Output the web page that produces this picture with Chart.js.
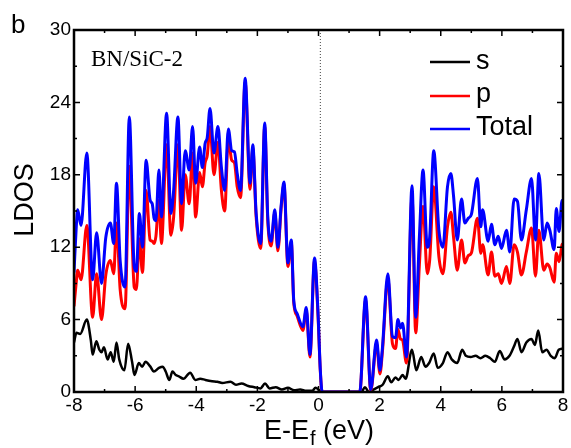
<!DOCTYPE html>
<html>
<head>
<meta charset="utf-8">
<script src="https://cdn.jsdelivr.net/npm/chart.js@4/dist/chart.umd.min.js"></script>
<style>
  html, body { margin: 0; padding: 0; background: #fff; }
  #ldos { display: block; }
</style>
</head>
<body>
<canvas id="ldos" width="571" height="448"></canvas>
<script>
(() => {
  "use strict";

  // energies (eV) shared by the p and Total curves
  const energies = [
    -8.00, -7.93, -7.88, -7.77, -7.58, -7.39, -7.26, -7.10, -6.96, -6.81,
    -6.70, -6.61, -6.49, -6.33, -6.19, -6.03, -5.96, -5.86, -5.76, -5.64,
    -5.51, -5.44, -5.38, -5.32, -5.22, -5.14, -4.97, -4.83, -4.74, -4.60,
    -4.48, -4.36, -4.23, -4.12, -4.02, -3.89, -3.80, -3.71, -3.64, -3.55,
    -3.42, -3.29, -3.18, -3.07, -2.95, -2.84, -2.75, -2.66, -2.55, -2.40,
    -2.24, -2.15, -2.04, -1.89, -1.76, -1.66, -1.55, -1.43, -1.33, -1.22,
    -1.13, -1.00, -0.89, -0.81, -0.70, -0.51, -0.40, -0.28, -0.13, -0.02,
    0.06, 0.12, 1.35, 1.54, 1.71, 1.90, 2.01, 2.09, 2.27, 2.42,
    2.52, 2.60, 2.68, 2.75, 2.88, 3.06, 3.18, 3.30, 3.42, 3.56,
    3.64, 3.77, 3.94, 4.07, 4.22, 4.33, 4.42, 4.54, 4.68, 4.79,
    4.90, 5.00, 5.20, 5.31, 5.37, 5.55, 5.66, 5.77, 5.88, 5.99,
    6.15, 6.26, 6.40, 6.51, 6.64, 6.80, 6.97, 7.10, 7.21, 7.37,
    7.48, 7.57, 7.71, 7.78, 7.87, 7.97, 8.00
  ];

  const totalDos = [
    9.9, 13.5, 15.1, 13.8, 19.8, 9.3, 13.2, 9.0, 12.8, 14.0,
    12.3, 17.3, 10.9, 8.7, 22.8, 10.4, 10.0, 14.8, 12.0, 19.2,
    15.9, 15.6, 14.4, 14.2, 18.4, 14.5, 23.1, 14.8, 16.7, 22.8,
    15.6, 20.0, 18.4, 22.0, 17.3, 20.3, 18.6, 20.6, 21.1, 23.5,
    19.8, 22.0, 18.7, 16.7, 21.8, 20.0, 19.9, 18.1, 16.7, 26.0,
    17.3, 20.5, 14.8, 12.3, 22.3, 14.5, 12.5, 15.1, 12.0, 15.5,
    17.4, 10.7, 12.6, 7.6, 6.5, 5.4, 7.0, 3.1, 11.1, 6.8,
    1.8, 0.0, 0.0, 7.9, 0.2, 4.3, 1.8, 3.6, 9.8, 4.6,
    4.5, 6.0, 5.3, 5.7, 2.9, 17.1, 6.2, 12.8, 18.4, 12.0,
    12.9, 20.0, 13.4, 12.0, 17.0, 18.1, 16.2, 12.6, 16.0, 14.0,
    14.4, 14.7, 17.7, 13.7, 15.1, 12.5, 13.9, 12.2, 12.9, 11.9,
    13.4, 11.6, 16.0, 15.8, 12.6, 15.1, 17.7, 12.6, 18.1, 12.6,
    14.0, 13.4, 11.8, 15.2, 13.3, 15.9, 15.5
  ];

  const pDos = [
    7.1, 9.0, 10.1, 9.3, 13.8, 6.2, 9.8, 6.0, 9.7, 10.9,
    9.8, 14.0, 8.5, 6.9, 18.7, 8.7, 8.5, 12.7, 9.9, 16.7,
    12.6, 12.5, 12.3, 12.9, 15.9, 12.3, 20.5, 13.0, 14.5, 20.5,
    13.4, 18.0, 15.6, 19.8, 14.5, 18.2, 17.0, 19.0, 19.6, 22.0,
    18.0, 20.7, 16.8, 15.0, 21.0, 19.2, 19.0, 17.0, 16.1, 25.7,
    16.8, 20.2, 14.5, 11.9, 22.0, 14.2, 12.1, 14.9, 11.7, 15.3,
    17.2, 10.4, 12.4, 7.4, 6.3, 5.1, 6.8, 2.9, 10.9, 6.6,
    1.7, 0.0, 0.0, 7.6, 0.1, 4.0, 1.5, 3.3, 9.4, 4.0,
    3.6, 5.2, 4.4, 4.3, 2.4, 16.2, 4.9, 10.5, 15.4, 9.8,
    11.0, 17.0, 11.2, 9.8, 13.7, 14.9, 12.8, 10.1, 12.6, 10.7,
    11.3, 11.5, 14.4, 11.5, 12.2, 9.7, 11.6, 9.6, 9.8, 9.0,
    10.4, 9.0, 12.2, 11.6, 9.7, 11.6, 13.6, 9.6, 13.4, 10.1,
    10.6, 10.3, 9.1, 11.5, 10.8, 12.2, 12.3
  ];

  // s curve has its own energy grid
  const sEnergies = [
    -8.00, -7.92, -7.80, -7.58, -7.45, -7.39, -7.27, -7.17, -7.10, -7.02,
    -6.90, -6.80, -6.70, -6.61, -6.52, -6.35, -6.23, -6.10, -6.02, -5.88,
    -5.77, -5.66, -5.50, -5.39, -5.22, -5.10, -5.00, -4.88, -4.78, -4.67,
    -4.57, -4.42, -4.20, -4.03, -3.87, -3.70, -3.48, -3.31, -3.15, -2.88,
    -2.70, -2.52, -2.30, -2.10, -1.90, -1.75, -1.60, -1.40, -1.20, -1.00,
    -0.80, -0.60, -0.40, -0.20, -0.10, 0.05, 0.12, 1.40, 1.52, 1.65,
    1.80, 1.95, 2.10, 2.27, 2.38, 2.52, 2.62, 2.75, 2.85, 3.06,
    3.20, 3.36, 3.50, 3.62, 3.77, 3.90, 4.07, 4.22, 4.36, 4.54,
    4.70, 4.82, 4.98, 5.14, 5.30, 5.46, 5.62, 5.77, 5.93, 6.09,
    6.25, 6.40, 6.51, 6.64, 6.80, 6.97, 7.08, 7.19, 7.32, 7.46,
    7.60, 7.73, 7.86, 8.00
  ];

  const sDos = [
    4.1, 4.9, 4.8, 6.0, 4.3, 3.1, 4.2, 3.5, 3.3, 3.7,
    2.7, 3.3, 2.5, 4.1, 2.7, 1.8, 4.0, 2.5, 1.4, 2.4,
    2.1, 2.5, 2.1, 1.7, 2.0, 2.1, 1.7, 1.0, 1.7, 1.4,
    1.3, 1.1, 1.6, 1.0, 1.1, 1.0, 0.9, 0.85, 0.75, 0.85,
    0.6, 0.7, 0.5, 0.4, 0.3, 0.7, 0.3, 0.4, 0.2, 0.35,
    0.15, 0.2, 0.1, 0.1, 0.35, 0.1, 0.0, 0.0, 0.4, 0.0,
    0.2, 0.4, 0.6, 1.3, 0.8, 1.2, 1.0, 1.4, 1.1, 3.5,
    1.8, 2.9, 2.1, 2.4, 3.2, 2.0, 2.4, 3.3, 2.7, 2.4,
    3.5, 3.0, 2.9, 3.0, 2.8, 3.0, 2.8, 2.5, 3.4, 2.7,
    3.0, 3.8, 4.4, 3.3, 4.1, 4.4, 3.9, 5.1, 3.3, 3.5,
    3.0, 2.8, 3.5, 3.6
  ];

  const xTicks = [-8, -6, -4, -2, 0, 2, 4, 6, 8];
  const yTicks = [0, 6, 12, 18, 24, 30];
  const fermiLine = 0.06;

  const SANS = "'Liberation Sans', Arial, sans-serif";
  const SERIF = "'Liberation Serif', 'Times New Roman', serif";

  function toPoints(xs, ys) {
    return xs.map((x, i) => ({ x, y: ys[i] }));
  }

  // frame, inward ticks, dotted Fermi line, legend and text labels
  const decorations = {
    id: "decorations",
    beforeDatasetsDraw(chart) {
      const { ctx, chartArea: a, scales } = chart;
      const xf = scales.x.getPixelForValue(fermiLine);
      ctx.save();
      ctx.strokeStyle = "#444";
      ctx.lineWidth = 1;
      ctx.setLineDash([1, 2]);
      ctx.beginPath();
      ctx.moveTo(xf, a.top);
      ctx.lineTo(xf, a.bottom);
      ctx.stroke();
      ctx.restore();
    },
    afterDraw(chart) {
      const { ctx, chartArea: a, scales } = chart;
      ctx.save();
      ctx.strokeStyle = "#000";
      ctx.lineWidth = 2.5;
      ctx.strokeRect(a.left, a.top, a.right - a.left, a.bottom - a.top);

      ctx.lineWidth = 1.5;
      ctx.beginPath();
      for (let v = -8; v <= 8; v += 1) {
        const px = scales.x.getPixelForValue(v);
        const len = v % 2 === 0 ? 6 : 3;
        ctx.moveTo(px, a.bottom); ctx.lineTo(px, a.bottom - len);
        ctx.moveTo(px, a.top); ctx.lineTo(px, a.top + len);
      }
      for (let v = 0; v <= 30; v += 3) {
        const py = scales.y.getPixelForValue(v);
        const len = v % 6 === 0 ? 6 : 3;
        ctx.moveTo(a.left, py); ctx.lineTo(a.left + len, py);
        ctx.moveTo(a.right, py); ctx.lineTo(a.right - len, py);
      }
      ctx.stroke();

      // legend
      const legend = [
        ["s", "#000000", 62, 69],
        ["p", "#ff0000", 96, 102],
        ["Total", "#0000ff", 129, 135]
      ];
      ctx.lineWidth = 2.5;
      ctx.font = `27px ${SANS}`;
      ctx.textAlign = "left";
      ctx.textBaseline = "alphabetic";
      legend.forEach(([label, color, ly, by]) => {
        ctx.strokeStyle = color;
        ctx.beginPath();
        ctx.moveTo(430, ly);
        ctx.lineTo(470, ly);
        ctx.stroke();
        ctx.fillStyle = "#000";
        ctx.fillText(label, 476, by);
      });

      // inset label
      ctx.font = `23px ${SERIF}`;
      ctx.fillText("BN/SiC-2", 91, 66);

      // panel letter
      ctx.font = `26px ${SANS}`;
      ctx.fillText("b", 11, 33);

      // x title with subscript f
      ctx.font = `27px ${SANS}`;
      const partA = "E-E";
      const partB = " (eV)";
      ctx.font = `27px ${SANS}`;
      const wA = ctx.measureText(partA).width;
      ctx.font = `20px ${SANS}`;
      const wF = ctx.measureText("f").width;
      ctx.font = `27px ${SANS}`;
      const wB = ctx.measureText(partB).width;
      let tx = (a.left + a.right) / 2 - (wA + wF + wB) / 2;
      ctx.fillText(partA, tx, 439);
      tx += wA;
      ctx.font = `20px ${SANS}`;
      ctx.fillText("f", tx + 1, 445);
      tx += wF + 1;
      ctx.font = `27px ${SANS}`;
      ctx.fillText(partB, tx, 439);

      // y title
      ctx.translate(33, 200);
      ctx.rotate(-Math.PI / 2);
      ctx.textAlign = "center";
      ctx.fillText("LDOS", 0, 0);
      ctx.restore();
    }
  };

  new Chart(document.getElementById("ldos"), {
    type: "line",
    data: {
      datasets: [
        {
          label: "Total",
          data: toPoints(energies, totalDos),
          borderColor: "#0000ff",
          borderWidth: 3,
          pointRadius: 0,
          cubicInterpolationMode: "monotone"
        },
        {
          label: "p",
          data: toPoints(energies, pDos),
          borderColor: "#ff0000",
          borderWidth: 3,
          pointRadius: 0,
          cubicInterpolationMode: "monotone"
        },
        {
          label: "s",
          data: toPoints(sEnergies, sDos),
          borderColor: "#000000",
          borderWidth: 2.5,
          pointRadius: 0,
          cubicInterpolationMode: "monotone"
        }
      ]
    },
    options: {
      responsive: false,
      animation: false,
      devicePixelRatio: 1,
      layout: { padding: { left: 0, right: 8, top: 30, bottom: 0 } },
      plugins: {
        legend: { display: false },
        tooltip: { enabled: false }
      },
      scales: {
        x: {
          type: "linear",
          min: -8,
          max: 8,
          afterFit(scale) { scale.height = 56; },
          afterBuildTicks(scale) { scale.ticks = xTicks.map(v => ({ value: v })); },
          grid: { display: false, drawTicks: false },
          border: { display: false },
          ticks: {
            padding: 2,
            color: "#000",
            font: { family: SANS, size: 19 },
            maxRotation: 0,
            autoSkip: false
          }
        },
        y: {
          type: "linear",
          min: 0,
          max: 30,
          afterFit(scale) { scale.width = 74; },
          afterBuildTicks(scale) { scale.ticks = yTicks.map(v => ({ value: v })); },
          grid: { display: false, drawTicks: false },
          border: { display: false },
          ticks: {
            padding: 3,
            color: "#000",
            font: { family: SANS, size: 19 },
            autoSkip: false
          }
        }
      }
    },
    plugins: [decorations]
  });
})();
</script>
</body>
</html>
